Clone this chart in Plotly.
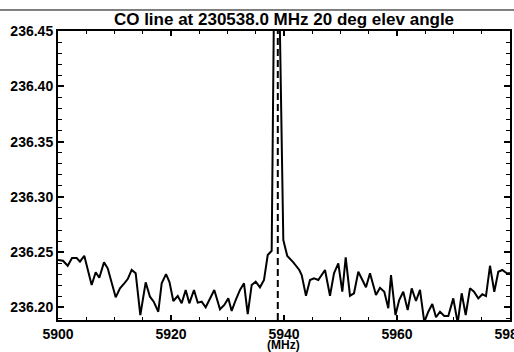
import plotly.graph_objects as go

freq = [5900.00, 5900.88, 5901.72, 5902.48, 5903.31, 5903.89, 5904.65, 5905.96, 5906.67, 5907.31,
        5908.14, 5908.80, 5910.21, 5910.97, 5911.73, 5912.34, 5913.04, 5913.75, 5914.57, 5915.52,
        5916.28, 5916.94, 5917.75, 5918.35, 5919.12, 5919.73, 5920.41, 5921.19, 5921.89, 5922.60,
        5923.24, 5924.07, 5924.73, 5925.43, 5926.14, 5926.90, 5927.66, 5928.67, 5929.43, 5930.14,
        5930.74, 5931.45, 5932.21, 5932.92, 5933.58, 5934.28, 5934.99, 5935.75, 5936.46, 5937.12,
        5937.82, 5938.58, 5939.88, 5940.58, 5941.65, 5942.71, 5943.13, 5943.89, 5944.60, 5945.31,
        5946.07, 5947.26, 5948.14, 5948.85, 5949.61, 5950.32, 5950.92, 5951.68, 5952.39, 5953.15,
        5953.93, 5954.51, 5955.22, 5956.28, 5956.99, 5957.75, 5958.46, 5958.94, 5959.73, 5960.39,
        5961.11, 5961.89, 5962.60, 5963.36, 5964.07, 5964.83, 5965.54, 5966.25, 5966.90, 5967.61,
        5968.37, 5969.08, 5969.96, 5970.74, 5971.45, 5972.16, 5972.92, 5973.63, 5974.39, 5975.10,
        5975.75, 5976.46, 5977.22, 5977.93, 5978.64, 5979.42, 5980.00]

temp = [236.2428, 236.2422, 236.2376, 236.2446, 236.2446, 236.2413, 236.2467, 236.2202, 236.2317, 236.2268,
        236.2407, 236.2353, 236.2090, 236.2172, 236.2217, 236.2256, 236.2338, 236.2308, 236.1930, 236.2226,
        236.2096, 236.2051, 236.1960, 236.2217, 236.2301, 236.2229, 236.2057, 236.2102, 236.2036, 236.2157,
        236.2036, 236.2157, 236.2042, 236.2051, 236.2000, 236.2081, 236.2157, 236.1982, 236.2021, 236.2081,
        236.1967, 236.2066, 236.2157, 236.2217, 236.1939, 236.2202, 236.2232, 236.2181, 236.2247, 236.2473,
        236.2512, 236.6690, 236.2609, 236.2464, 236.2407, 236.2338, 236.2292, 236.2105, 236.2247, 236.2262,
        236.2247, 236.2338, 236.2105, 236.2308, 236.2398, 236.2141, 236.2452, 236.2105, 236.2127, 236.2322,
        236.2232, 236.2181, 236.2308, 236.2111, 236.2177, 236.2141, 236.1991, 236.2292, 236.1930, 236.2066,
        236.2141, 236.1976, 236.2172, 236.2057, 236.2157, 236.1867, 236.1960, 236.2030, 236.1910, 236.1960,
        236.1921, 236.1921, 236.2081, 236.1858, 236.2127, 236.1930, 236.2172, 236.2141, 236.2081, 236.2118,
        236.2102, 236.2376, 236.2141, 236.2322, 236.2338, 236.2308, 236.2308]

line_freq = 5938.9
title_text = "CO line at 230538.0 MHz 20 deg elev angle"
x_title = "(MHz)"
x_ticks = [5900, 5920, 5940, 5960, 5980]
y_ticks = [236.20, 236.25, 236.30, 236.35, 236.40, 236.45]

fig = go.Figure()
fig.add_trace(go.Scatter(x=freq, y=temp, mode="lines",
                         line=dict(color="black", width=2), showlegend=False))

fig.add_shape(type="line", xref="x", yref="paper", x0=line_freq, x1=line_freq, y0=0, y1=1,
              line=dict(color="black", width=2, dash="7px,4px"))
fig.add_shape(type="line", xref="paper", yref="paper", x0=-0.13, x1=1.02, y0=1.0727, y1=1.0727,
              line=dict(color="black", width=1))

tickfont = dict(family="Liberation Sans", size=14, color="black", weight="bold")

fig.update_layout(
    width=514, height=352,
    margin=dict(l=58, r=4, t=31, b=32, autoexpand=False),
    paper_bgcolor="white", plot_bgcolor="white",
    title=dict(text=title_text, x=0.5, xref="paper", y=1 - 19 / 352, yref="container",
               xanchor="center", yanchor="middle",
               font=dict(family="Liberation Sans", size=17, color="black", weight="bold")),
    xaxis=dict(range=[5900, 5980], tickvals=x_ticks, ticktext=[str(v) for v in x_ticks],
               ticks="inside", ticklen=5, tickwidth=2, tickcolor="black",
               minor=dict(dtick=5, tick0=5900, ticks="inside", ticklen=3, tickwidth=1, tickcolor="black"),
               showline=True, linewidth=2, linecolor="black", mirror="allticks",
               showgrid=False, zeroline=False, tickfont=tickfont, ticklabeloverflow="allow",
               automargin=False),
    yaxis=dict(range=[236.1885, 236.4502], tickvals=y_ticks, ticktext=[f"{v:.2f}" for v in y_ticks],
               ticks="inside", ticklen=6, tickwidth=2, tickcolor="black",
               minor=dict(dtick=0.01, tick0=236.20, ticks="inside", ticklen=4, tickwidth=1, tickcolor="black"),
               showline=True, linewidth=2, linecolor="black", mirror="allticks",
               showgrid=False, zeroline=False, tickfont=tickfont, ticklabeloverflow="allow",
               automargin=False),
    annotations=[dict(text=x_title, xref="paper", yref="paper", x=(283 - 58) / 452, y=(320 - 345) / 289,
                      xanchor="center", yanchor="middle", showarrow=False,
                      font=dict(family="Liberation Sans", size=12, color="black", weight="bold"))],
)

fig.write_html("out.html")
